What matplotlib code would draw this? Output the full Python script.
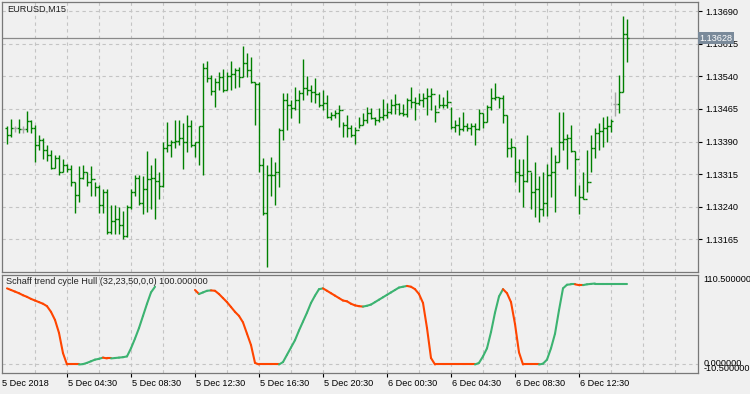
import numpy as np
import matplotlib
matplotlib.use("Agg")
import matplotlib.pyplot as plt
from matplotlib.collections import LineCollection
import matplotlib.transforms as mtransforms

plt.rcParams['font.family'] = ['Liberation Sans', 'DejaVu Sans']

nan = np.nan

# EURUSD M15 bars, 5 Dec 2018 00:45 onwards
highs = [1.13426, 1.13443, 1.13426, 1.13443, 1.13426, 1.13461, 1.13440, 1.13429, 1.13404, 1.13399,
         1.13381, 1.13371, 1.13360, 1.13358, 1.13349, 1.13339, 1.13335, 1.13296, 1.13333, 1.13335,
         1.13319, 1.13333, 1.13298, 1.13291, 1.13280, 1.13280, 1.13245, 1.13245, 1.13239, 1.13230,
         1.13243, 1.13280, 1.13312, 1.13314, 1.13310, 1.13369, 1.13337, 1.13353, 1.13319, 1.13388,
         1.13436, 1.13394, 1.13440, 1.13440, 1.13433, 1.13452, 1.13440, 1.13388, 1.13426, 1.13571,
         1.13575, 1.13543, 1.13536, 1.13550, 1.13557, 1.13550, 1.13575, 1.13559, 1.13562, 1.13610,
         1.13594, 1.13585, 1.13527, 1.13527, 1.13353, 1.13337, 1.13355, 1.13344, 1.13422, 1.13502,
         1.13502, 1.13486, 1.13516, 1.13509, 1.13580, 1.13541, 1.13520, 1.13536, 1.13504, 1.13509,
         1.13497, 1.13458, 1.13463, 1.13473, 1.13436, 1.13452, 1.13429, 1.13424, 1.13447, 1.13456,
         1.13470, 1.13467, 1.13447, 1.13467, 1.13488, 1.13479, 1.13488, 1.13500, 1.13479, 1.13477,
         1.13491, 1.13516, 1.13493, 1.13502, 1.13502, 1.13514, 1.13514, 1.13475, 1.13500, 1.13493,
         1.13509, 1.13470, 1.13440, 1.13447, 1.13458, 1.13433, 1.13433, 1.13433, 1.13465, 1.13456,
         1.13475, 1.13514, 1.13525, 1.13493, 1.13497, 1.13452, 1.13399, 1.13378, 1.13349, 1.13349,
         1.13404, 1.13321, 1.13342, 1.13310, 1.13321, 1.13339, 1.13378, 1.13358, 1.13458, 1.13458,
         1.13408, 1.13429, 1.13369, 1.13289, 1.13319, 1.13371, 1.13406, 1.13422, 1.13433, 1.13447,
         1.13449, 1.13443, 1.13504, 1.13543, 1.13678, 1.13672]
lows = [1.13385, 1.13401, 1.13413, 1.13410, 1.13410, 1.13413, 1.13410, 1.13344, 1.13371, 1.13351,
        1.13346, 1.13326, 1.13330, 1.13312, 1.13319, 1.13321, 1.13287, 1.13225, 1.13250, 1.13303,
        1.13287, 1.13265, 1.13265, 1.13225, 1.13225, 1.13177, 1.13177, 1.13177, 1.13177, 1.13165,
        1.13170, 1.13234, 1.13264, 1.13245, 1.13223, 1.13227, 1.13234, 1.13211, 1.13257, 1.13285,
        1.13365, 1.13355, 1.13376, 1.13381, 1.13326, 1.13367, 1.13378, 1.13355, 1.13337, 1.13314,
        1.13527, 1.13497, 1.13470, 1.13509, 1.13504, 1.13509, 1.13509, 1.13514, 1.13516, 1.13539,
        1.13539, 1.13525, 1.13429, 1.13321, 1.13220, 1.13101, 1.13264, 1.13245, 1.13285, 1.13394,
        1.13417, 1.13445, 1.13463, 1.13433, 1.13486, 1.13497, 1.13481, 1.13479, 1.13470, 1.13463,
        1.13445, 1.13440, 1.13445, 1.13424, 1.13401, 1.13401, 1.13401, 1.13385, 1.13422, 1.13429,
        1.13433, 1.13443, 1.13429, 1.13436, 1.13440, 1.13445, 1.13454, 1.13454, 1.13452, 1.13449,
        1.13447, 1.13467, 1.13440, 1.13475, 1.13470, 1.13452, 1.13463, 1.13436, 1.13467, 1.13467,
        1.13467, 1.13420, 1.13413, 1.13404, 1.13415, 1.13415, 1.13406, 1.13383, 1.13417, 1.13422,
        1.13436, 1.13463, 1.13486, 1.13467, 1.13433, 1.13355, 1.13355, 1.13296, 1.13273, 1.13239,
        1.13298, 1.13234, 1.13216, 1.13204, 1.13218, 1.13218, 1.13262, 1.13227, 1.13342, 1.13371,
        1.13326, 1.13367, 1.13264, 1.13223, 1.13257, 1.13273, 1.13321, 1.13353, 1.13371, 1.13378,
        1.13388, 1.13413, 1.13449, 1.13456, 1.13504, 1.13573]
closes = [1.13404, 1.13422, 1.13422, 1.13420, 1.13420, 1.13438, 1.13422, 1.13381, 1.13394, 1.13371,
          1.13360, 1.13330, 1.13353, 1.13321, 1.13337, 1.13326, 1.13296, 1.13268, 1.13307, 1.13321,
          1.13298, 1.13303, 1.13285, 1.13245, 1.13275, 1.13182, 1.13207, 1.13211, 1.13198, 1.13172,
          1.13239, 1.13273, 1.13307, 1.13248, 1.13280, 1.13303, 1.13307, 1.13300, 1.13287, 1.13376,
          1.13381, 1.13388, 1.13392, 1.13399, 1.13388, 1.13426, 1.13381, 1.13388, 1.13426, 1.13559,
          1.13536, 1.13507, 1.13527, 1.13539, 1.13509, 1.13541, 1.13545, 1.13555, 1.13539, 1.13571,
          1.13555, 1.13527, 1.13522, 1.13335, 1.13225, 1.13314, 1.13312, 1.13319, 1.13417, 1.13486,
          1.13475, 1.13467, 1.13486, 1.13502, 1.13514, 1.13509, 1.13504, 1.13500, 1.13475, 1.13479,
          1.13447, 1.13452, 1.13456, 1.13463, 1.13429, 1.13422, 1.13406, 1.13417, 1.13429, 1.13440,
          1.13456, 1.13445, 1.13440, 1.13447, 1.13452, 1.13458, 1.13473, 1.13477, 1.13456, 1.13454,
          1.13486, 1.13481, 1.13479, 1.13486, 1.13491, 1.13495, 1.13500, 1.13458, 1.13473, 1.13475,
          1.13481, 1.13424, 1.13429, 1.13420, 1.13426, 1.13422, 1.13426, 1.13420, 1.13456, 1.13436,
          1.13470, 1.13491, 1.13493, 1.13491, 1.13452, 1.13376, 1.13378, 1.13321, 1.13314, 1.13300,
          1.13323, 1.13275, 1.13280, 1.13236, 1.13248, 1.13314, 1.13321, 1.13342, 1.13390, 1.13396,
          1.13399, 1.13369, 1.13349, 1.13262, 1.13257, 1.13298, 1.13376, 1.13410, 1.13415, 1.13422,
          1.13426, 1.13438, 1.13477, 1.13504, 1.13637, 1.13628]
# opens follow the previous close, except the gap bar
opens = [1.13422] + closes[:-1]
opens[152] = 1.13477

# Schaff trend cycle Hull values per bar
stc = [94, 92, 90, 88, 85.5, 83.5, 81, 79, 77, 75, 72, 65, 55, 39, 14, 0, 0, 0, 0, 0.5,
       2, 4, 6, 7, 8.5, 7.5, 7.5, 8, 8.5, 9, 10, 20, 32, 45, 60, 75, 89, 96, nan, nan,
       nan, nan, nan, nan, nan, nan, nan, 92, 87, 89, 91, 91.5, 91, 87, 82, 77, 71, 65, 60, 52,
       38, 24, 2, 0, 0, 0, 0, 0, 0, 3, 12, 21, 30, 42, 53, 64, 76, 85, 93, 94,
       91, 88, 85, 82, 79, 78, 75, 73, 72, 71.5, 72.5, 74, 77, 80, 83, 86, 89, 92, 95, 96,
       97, 96, 93, 87, 76, 45, 8, 0, 0, 0, 0, 0, 0, 0, 0, 0, 0, 0, 2, 10,
       20, 40, 64, 84, 93, 88, 77, 50, 15, 0, 0, 0, 0, 0, 1, 6, 20, 38, 67, 94,
       98.5, 99, 99, 98, 98, 99, 99.5, 100, 100, 100, 100, 100, 100, 100, 100, 100]

price_ticks = [1.13165, 1.13240, 1.13315, 1.13390, 1.13465, 1.13540, 1.13615, 1.13690]
time_pos = [15, 31, 47, 63, 79, 95, 111, 127, 143]
time_labels = ["5 Dec 04:30", "5 Dec 08:30", "5 Dec 12:30", "5 Dec 16:30", "5 Dec 20:30",
               "6 Dec 00:30", "6 Dec 04:30", "6 Dec 08:30", "6 Dec 12:30"]
last_price = 1.13628

BG = '#F0F0F0'
GRID = '#C4C4C4'
EDGE = '#787878'
FS = 6.6

W, H = 750, 394
fig = plt.figure(figsize=(W / 100, H / 100), dpi=100, facecolor=BG)
ax = fig.add_axes([2 / W, 1 - 272 / H, 696 / W, 270 / H], facecolor=BG)
ax2 = fig.add_axes([2 / W, 1 - 373 / H, 696 / W, 98 / H], facecolor=BG)

x = np.arange(len(closes))
xmin, xmax = -1.25, 172.75

# price bars
cols = ['#A8A8A8' if o == c else '#008000' for o, c in zip(opens, closes)]
ax.vlines(x, lows, highs, colors=cols, lw=1.0)
ax.hlines(opens, x - 0.5, x, colors=cols, lw=1.0)
ax.hlines(closes, x, x + 0.5, colors=cols, lw=1.0)

ax.set_xlim(xmin, xmax)
ax.set_ylim(1.13090, 1.13711)
ax.set_yticks(price_ticks)
ax.set_yticklabels([f"{p:.5f}" for p in price_ticks])
ax.yaxis.tick_right()
ax.tick_params(axis='y', length=3, width=0.8, pad=2, labelsize=FS, colors='black')
ax.tick_params(axis='x', length=0, labelbottom=False)
vgrid = np.arange(7, 172, 8)
for g in vgrid:
    ax.axvline(g, color=GRID, lw=0.8, ls=(0, (3, 3)), zorder=0)
    ax2.axvline(g, color=GRID, lw=0.8, ls=(0, (3, 3)), zorder=0)
for p in price_ticks:
    ax.axhline(p, color=GRID, lw=0.8, ls=(0, (3, 3)), zorder=0)
ax.axhline(last_price, color='#8A8A8A', lw=0.9, zorder=1)
ax.text(1.002, last_price, f"{last_price:.5f}", transform=mtransforms.blended_transform_factory(ax.transAxes, ax.transData),
        ha='left', va='center', fontsize=FS, color='white',
        bbox=dict(boxstyle='square,pad=0.2', fc='#7A8A9A', ec='none'))
ax.text(0.007, 0.99, "EURUSD,M15", transform=ax.transAxes, ha='left', va='top', fontsize=FS, color='#222222')
for s in ax.spines.values():
    s.set_color(EDGE)
    s.set_linewidth(0.9)

# indicator line, green when rising, orange-red when falling
segs, seg_cols = [], []
up = False
for i in range(1, len(stc)):
    a, b = stc[i - 1], stc[i]
    if np.isnan(a) or np.isnan(b):
        continue
    if b > a:
        up = True
    elif b < a:
        up = False
    segs.append([(x[i - 1], a), (x[i], b)])
    seg_cols.append('#3CB371' if up else '#FF4500')
ax2.add_collection(LineCollection(segs, colors=seg_cols, linewidths=1.5, capstyle='round'))
ax2.axhline(0, color=GRID, lw=0.8, ls=(0, (3, 3)), zorder=0)
ax2.set_xlim(xmin, xmax)
ax2.set_ylim(-10.5, 110.5)
ax2.set_yticks([])
ax2.set_xticks(time_pos)
ax2.set_xticklabels([])
ax2.tick_params(axis='x', length=3, width=0.8, colors='black')
for s in ax2.spines.values():
    s.set_color(EDGE)
    s.set_linewidth(0.9)
ax2.text(0.006, 0.93, "Schaff trend cycle Hull (32,23,50,0,0) 100.000000", transform=ax2.transAxes,
         ha='left', va='center', fontsize=FS, color='#222222')

ytr = mtransforms.blended_transform_factory(ax2.transAxes, ax2.transData)
ax2.text(1.008, 110.5, "110.500000", transform=ytr, ha='left', va='top', fontsize=FS)
ax2.text(1.008, 1.0, "0.000000", transform=ytr, ha='left', va='center', fontsize=FS)
ax2.text(1.008, -10.5, "-10.500000", transform=ytr, ha='left', va='bottom', fontsize=FS)

# time axis labels
xtr = mtransforms.blended_transform_factory(ax2.transData, ax2.transAxes)
ax2.text(xmin, -0.06, "5 Dec 2018", transform=xtr, ha='left', va='top', fontsize=FS)
for p, lab in zip(time_pos, time_labels):
    ax2.text(p + 0.2, -0.06, lab, transform=xtr, ha='left', va='top', fontsize=FS)

fig.savefig("out.png", dpi=100, facecolor=BG)
